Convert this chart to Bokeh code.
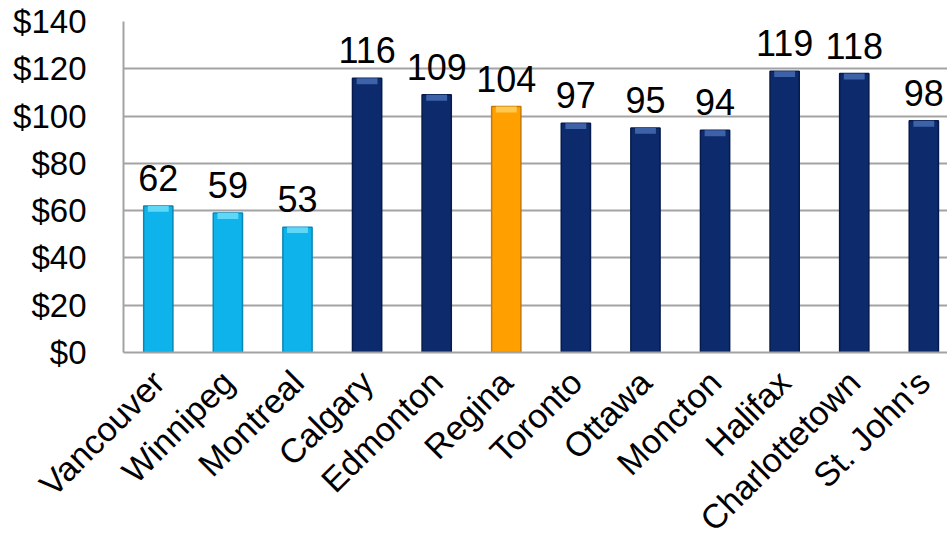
import numpy as np
from bokeh.plotting import figure
from bokeh.models import Range1d, FixedTicker, NumeralTickFormatter, ColumnDataSource
from bokeh.core.properties import value
from bokeh.embed import file_html
from bokeh.resources import INLINE

cities = ["Vancouver", "Winnipeg", "Montreal", "Calgary", "Edmonton", "Regina",
          "Toronto", "Ottawa", "Moncton", "Halifax", "Charlottetown", "St. John's"]
costs = [62, 59, 53, 116, 109, 104, 97, 95, 94, 119, 118, 98]
groups = ["west", "west", "west", "prairie", "prairie", "regina",
          "east", "east", "east", "east", "east", "east"]
y_ticks = [0, 20, 40, 60, 80, 100, 120, 140]

main_col = {"west": "#0db3ea", "prairie": "#0c2a6c", "regina": "#ffa000", "east": "#0c2a6c"}
top_col = {"west": "#5fd8f8", "prairie": "#3d62a8", "regina": "#ffc850", "east": "#3d62a8"}
edge_col = {"west": "#0a87b5", "prairie": "#061b4b", "regina": "#c87a00", "east": "#061b4b"}

xs = list(range(len(cities)))
vals = np.array(costs, dtype=float)
src = ColumnDataSource(dict(
    x=xs, top=vals, cap=vals - 2.5, label=[str(c) for c in costs],
    fill=[main_col[g] for g in groups],
    capc=[top_col[g] for g in groups],
    edge=[edge_col[g] for g in groups],
))

FONT = "Liberation Sans"

p = figure(width=947, height=554, output_backend="svg", toolbar_location=None,
           x_range=Range1d(-0.5, 11.34), y_range=Range1d(0, 140))
p.min_border_left = 123
p.min_border_right = 0
p.min_border_top = 21
p.min_border_bottom = 202
p.outline_line_color = None
p.background_fill_color = "white"
p.border_fill_color = "white"

p.xgrid.grid_line_color = None
p.ygrid.grid_line_color = "#a3a3a3"
p.ygrid.grid_line_width = 2
p.yaxis.ticker = FixedTicker(ticks=y_ticks)
p.yaxis.formatter = NumeralTickFormatter(format="$0")
p.yaxis.axis_line_color = "#a3a3a3"
p.yaxis.axis_line_width = 2
p.yaxis.major_tick_line_color = None
p.yaxis.minor_tick_line_color = None
p.yaxis.major_label_text_font = FONT
p.yaxis.major_label_text_font_size = "33px"
p.yaxis.major_label_text_color = "black"
p.yaxis.major_label_standoff = 31

p.xaxis.ticker = FixedTicker(ticks=xs)
p.xaxis.major_label_overrides = {i: c for i, c in enumerate(cities)}
p.xaxis.major_label_orientation = np.pi / 4
p.xaxis.axis_line_color = "#a3a3a3"
p.xaxis.axis_line_width = 2
p.xaxis.major_tick_line_color = None
p.xaxis.minor_tick_line_color = None
p.xaxis.major_label_text_font = FONT
p.xaxis.major_label_text_font_size = "34px"
p.xaxis.major_label_text_color = "black"
p.xaxis.major_label_standoff = 18

p.vbar(x="x", top="top", bottom=0, width=0.42, source=src,
       fill_color="fill", line_color="edge", line_width=1.5)
p.vbar(x="x", top="top", bottom="cap", width=0.30, source=src,
       fill_color="capc", line_color=None)

p.text(x="x", y="top", text="label", source=src, y_offset=-15,
       text_align="center", text_baseline="bottom",
       text_font=value(FONT), text_font_size="36px", text_color="black")

open("out.html", "w").write(file_html(p, INLINE))
